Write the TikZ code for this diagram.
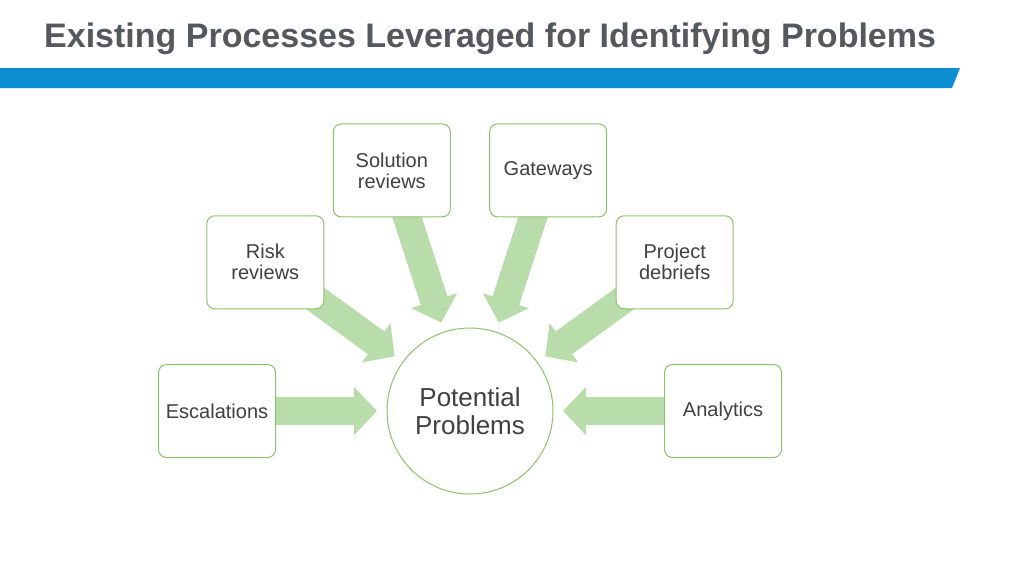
\documentclass[tikz,border=0pt]{standalone}
\usepackage{fontspec}
\setmainfont{Liberation Sans}
\usetikzlibrary{calc,arrows.meta,backgrounds}
\definecolor{titlegray}{HTML}{55585C}
\definecolor{textgray}{HTML}{404040}
\definecolor{barblue}{HTML}{0B8FD2}
\definecolor{boxgreen}{HTML}{8CC16D}
\definecolor{arrowgreen}{HTML}{B8DCAA}

\begin{document}
\begin{tikzpicture}[x=1pt,y=-1pt,
    procbox/.style={draw=boxgreen,line width=1pt,fill=white,rounded corners=8pt,
      minimum width=117pt,minimum height=93pt,inner sep=0pt,align=center,
      text=textgray,font=\fontsize{20}{21}\selectfont},
    hub/.style={circle,draw=boxgreen,line width=1pt,fill=white,minimum size=166pt,
      inner sep=0pt,align=center,text=textgray,font=\fontsize{26}{28}\selectfont},
    feed/.style={line width=28pt,draw=arrowgreen,-{Triangle[length=23pt,width=47pt]}}]
      \useasboundingbox (0,0) rectangle (1024,576);
      \node[anchor=base west,inner sep=0pt,text=titlegray,
        font=\fontsize{34}{40}\selectfont\bfseries] (title) at (44,47)
        {Existing Processes Leveraged for Identifying Problems};
      \fill[barblue] (0,68) -- (960,68) -- (952,88) -- (0,88) -- cycle;
      \node[hub] (pp) at (470,411) {Potential\\Problems};
      \newdimen\R
      \R=253pt
      \foreach \a/\l/\n in
      { 0/{Analytics}/ana,
        36/{Project\\debriefs}/deb,
        72/{Gateways}/gate,
        108/{Solution\\reviews}/sol,
        144/{Risk\\reviews}/risk,
        180/{Escalations}/esc}
      \node[procbox] (\n) at ($(pp)+(\a:\R)$) {\l};
      \begin{pgfonlayer}{background}
        \fill[white] (0,0) rectangle (1024,576);
        \foreach \n in {ana,deb,gate,sol,risk,esc}
          \draw[feed] (\n.center) -- ($(pp)!93pt!(\n)$);
      \end{pgfonlayer}
    \end{tikzpicture}
\end{document}
